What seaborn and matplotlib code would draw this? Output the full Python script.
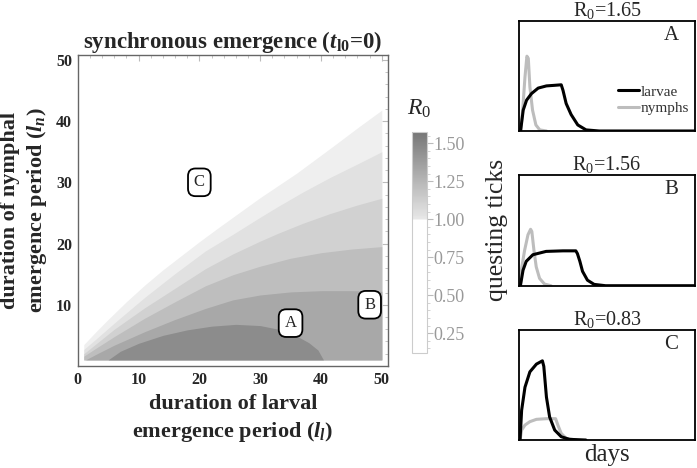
import numpy as np
import pandas as pd
import matplotlib
matplotlib.use('Agg')
import matplotlib.pyplot as plt
import seaborn as sns
from matplotlib.colors import LinearSegmentedColormap, Normalize
from matplotlib.cm import ScalarMappable
from matplotlib.ticker import MultipleLocator

sns.set_style('white')
plt.rcParams['font.family'] = ['Liberation Serif', 'DejaVu Serif']
plt.rcParams['mathtext.fontset'] = 'custom'
plt.rcParams['mathtext.rm'] = 'Liberation Serif'
plt.rcParams['mathtext.it'] = 'Liberation Serif:italic'
plt.rcParams['mathtext.bf'] = 'Liberation Serif:bold'
plt.rcParams['mathtext.bfit'] = 'Liberation Serif:italic:bold'

# R0 contour boundaries (l_l, l_n), levels 1.0 .. 1.5
b1_ll = [1, 3, 5, 8, 11, 14, 17, 20, 23, 26.5, 30, 33, 36, 39, 42, 46, 50]
b1_ln = [3.5, 5.6, 7.6, 10.5, 13.2, 15.7, 18.0, 20.3, 22.5, 25.0, 27.5, 29.5, 31.5, 33.7, 35.9, 38.9, 41.8]
b2_ll = [1, 3, 6, 11, 16, 21, 25.5, 30, 33, 37, 41.5, 46, 50]
b2_ln = [2.7, 4.4, 7.0, 11.2, 15.1, 18.8, 21.5, 24.3, 26.1, 28.4, 30.8, 33.0, 35.0]
b3_ll = [1, 3, 6, 11, 16, 21, 25.5, 30, 33, 37, 41.5, 46, 50]
b3_ln = [2.0, 3.6, 6.0, 9.5, 12.7, 15.9, 18.3, 20.4, 21.7, 23.3, 24.9, 26.3, 27.4]
b4_ll = [1, 3, 6, 11, 16, 21, 25.5, 30, 35, 40, 45, 50]
b4_ln = [1.6, 2.9, 4.8, 7.8, 10.5, 13.1, 14.9, 16.3, 17.6, 18.5, 19.1, 19.5]
b5_ll = [1.3, 3, 6, 11, 16, 21, 25.5, 30, 35, 40, 45, 50]
b5_ln = [1.0, 1.9, 3.4, 5.6, 7.6, 9.4, 10.8, 11.6, 12.1, 12.3, 12.3, 12.2]
b6_ll = [5, 7, 10, 14, 18, 22, 26, 30, 33, 36, 38, 39.5, 40.4]
b6_ln = [1.0, 2.4, 3.7, 5.0, 5.9, 6.5, 6.8, 6.6, 6.0, 4.9, 3.8, 2.6, 1.0]
band_colors = ['#efefef', '#e1e1e1', '#d1d1d1', '#bebebe', '#a8a8a8', '#8c8c8c']

# labelled points
point_labels = ['A', 'B', 'C']
point_ll = [35, 48, 20]
point_ln = [7, 10, 30]

# questing tick curves (days, relative abundance)
a_larv_day = [0.9, 2.4, 4.3, 7.1, 10.9, 15.6, 20, 24.0, 25.0, 26.8, 29.6, 33.4, 38.1, 45.6, 100]
a_larv_val = [0, 0.19, 0.28, 0.34, 0.39, 0.41, 0.415, 0.42, 0.37, 0.25, 0.15, 0.055, 0.01, 0, 0]
a_nym_day = [0.9, 2.1, 3.4, 4.5, 5.3, 6.2, 7.7, 9.6, 11.8, 15.6]
a_nym_val = [0, 0.19, 0.49, 0.68, 0.66, 0.40, 0.19, 0.055, 0.01, 0]
b_larv_day = [0.8, 2.3, 4.1, 7.9, 15.4, 25, 32.3, 33.2, 34.6, 36.1, 38.9, 42.7, 49.2, 100]
b_larv_val = [0, 0.14, 0.22, 0.28, 0.31, 0.315, 0.315, 0.29, 0.22, 0.13, 0.05, 0.012, 0, 0]
b_nym_day = [0.8, 1.3, 3.2, 5.1, 6.6, 7.3, 8.5, 9.8, 11.7, 14.5, 18.2]
b_nym_val = [0, 0.14, 0.32, 0.46, 0.51, 0.49, 0.32, 0.17, 0.066, 0.015, 0]
c_larv_day = [0.6, 1.5, 3.4, 6.2, 9.9, 13.3, 14.1, 15.6, 17.4, 20.3, 24.0, 28.7, 38]
c_larv_val = [0, 0.27, 0.48, 0.62, 0.69, 0.72, 0.67, 0.39, 0.21, 0.09, 0.03, 0.006, 0]
c_nym_day = [0.6, 1.5, 3.4, 6.2, 9.9, 15.6, 20.8, 22.1, 24.0, 26.8, 32.5]
c_nym_val = [0, 0.09, 0.136, 0.167, 0.188, 0.194, 0.194, 0.136, 0.06, 0.015, 0]
panel_r0 = ['1.65', '1.56', '0.83']

fig = plt.figure(figsize=(6.97, 4.68), dpi=100)

# main contour panel
ax = fig.add_axes([0.1115, 0.218, 0.445, 0.6645])
bounds = [(b1_ll, b1_ln), (b2_ll, b2_ln), (b3_ll, b3_ln),
          (b4_ll, b4_ln), (b5_ll, b5_ln), (b6_ll, b6_ln)]
for (bx, by), col in zip(bounds, band_colors):
    ax.fill_between(bx, 1, by, color=col, lw=0)
ax.set_xlim(0, 51)
ax.set_ylim(0, 50.8)
ax.set_xticks([0, 10, 20, 30, 40, 50])
ax.set_yticks([10, 20, 30, 40, 50])
ax.xaxis.set_minor_locator(MultipleLocator(2))
ax.yaxis.set_minor_locator(MultipleLocator(2))
ax.tick_params(which='both', direction='in', color='#bbbbbb', top=True, right=True,
               labeltop=False, labelright=False)
ax.tick_params(which='major', length=4, width=0.8, labelsize=11.5, pad=4)
ax.tick_params(which='minor', length=2, width=0.6)
for lab in ax.get_xticklabels() + ax.get_yticklabels():
    lab.set_fontweight('bold')
for sp in ax.spines.values():
    sp.set_color('#666666')
    sp.set_linewidth(1.0)
for t, x, y in zip(point_labels, point_ll, point_ln):
    ax.text(x, y, t, ha='center', va='center', fontsize=12,
            bbox=dict(boxstyle='round,pad=0.35,rounding_size=0.45', fc='white', ec='black', lw=1.3))
ax.set_title(r'synchronous emergence ($\mathbfit{t}_{\mathbf{l0}}$=0)', fontsize=16.5,
             fontweight='bold', pad=5)
ax.set_xlabel('duration of larval\n' + r'emergence period ($\mathbfit{l}_{\mathbfit{l}}$)',
              fontsize=16, fontweight='bold', linespacing=1.3, labelpad=5)
ax.set_ylabel('duration of nymphal\n' + r'emergence period ($\mathbfit{l}_{\mathbfit{n}}$)',
              fontsize=16, fontweight='bold', linespacing=1.3, labelpad=5)

# colour bar
cmap = LinearSegmentedColormap.from_list(
    'r0', [(0, 'white'), ((1.0 - 0.12) / (1.576 - 0.12) - 0.001, 'white'),
           ((1.0 - 0.12) / (1.576 - 0.12), '#e8e8e8'), (1, '#767676')])
norm = Normalize(0.12, 1.576)
cax = fig.add_axes([0.5907, 0.2457, 0.0215, 0.4729])
cb = fig.colorbar(ScalarMappable(norm=norm, cmap=cmap), cax=cax)
cb.set_ticks([0.25, 0.5, 0.75, 1.0, 1.25, 1.5])
cb.ax.set_yticklabels(['0.25', '0.50', '0.75', '1.00', '1.25', '1.50'])
cb.ax.yaxis.set_minor_locator(MultipleLocator(0.05))
cb.ax.tick_params(which='major', length=4, color='#bbbbbb', labelcolor='#999999', labelsize=13, pad=1)
cb.ax.tick_params(which='minor', length=2, color='#cccccc')
cb.outline.set_edgecolor('#cccccc')
cb.outline.set_linewidth(0.8)
cax.set_title(r'$R_0$', fontsize=17, pad=12)

# time series panels
panel_pos = [[0.7446, 0.7201, 0.2525, 0.235],
             [0.7446, 0.3895, 0.2525, 0.2365],
             [0.7446, 0.0598, 0.2525, 0.235]]
series = [(a_larv_day, a_larv_val, a_nym_day, a_nym_val),
          (b_larv_day, b_larv_val, b_nym_day, b_nym_val),
          (c_larv_day, c_larv_val, c_nym_day, c_nym_val)]
palette = {'larvae': 'black', 'nymphs': '#bdbdbd'}
for i, (pos, (ld, lv, nd, nv), r0, letter) in enumerate(zip(panel_pos, series, panel_r0, point_labels)):
    pax = fig.add_axes(pos)
    df = pd.concat([
        pd.DataFrame({'day': nd, 'val': nv, 'stage': 'nymphs'}),
        pd.DataFrame({'day': ld, 'val': lv, 'stage': 'larvae'}),
    ])
    sns.lineplot(data=df, x='day', y='val', hue='stage', palette=palette, estimator=None,
                 sort=False, lw=2.2, ax=pax, legend=False)
    pax.set_xlim(0, 100)
    pax.set_ylim(0, 1)
    pax.set_xticks([])
    pax.set_yticks([])
    pax.set_xlabel('')
    pax.set_ylabel('')
    for sp in pax.spines.values():
        sp.set_color('black')
        sp.set_linewidth(1.3)
    pax.set_title(r'R$_0$=' + r0, fontsize=14.5, pad=3)
    pax.text(0.865, 0.87, letter, transform=pax.transAxes, ha='center', va='center', fontsize=15)
    if i == 0:
        h1, = pax.plot([], [], color='black', lw=2.2, label='larvae')
        h2, = pax.plot([], [], color='#bdbdbd', lw=2.2, label='nymphs')
        pax.legend(handles=[h1, h2], loc='center right', bbox_to_anchor=(1.01, 0.28),
                   frameon=False, fontsize=11, handlelength=1.4, handletextpad=0.1,
                   labelspacing=0.2, borderaxespad=0.1, labelcolor='#333333')

fig.text(497 / 697, 1 - 230 / 468, 'questing ticks', rotation=90, ha='center', va='center', fontsize=18.5)
fig.text(607 / 697, 1 - 455 / 468, 'days', ha='center', va='center', fontsize=18)

fig.savefig('out.png', dpi=100)
